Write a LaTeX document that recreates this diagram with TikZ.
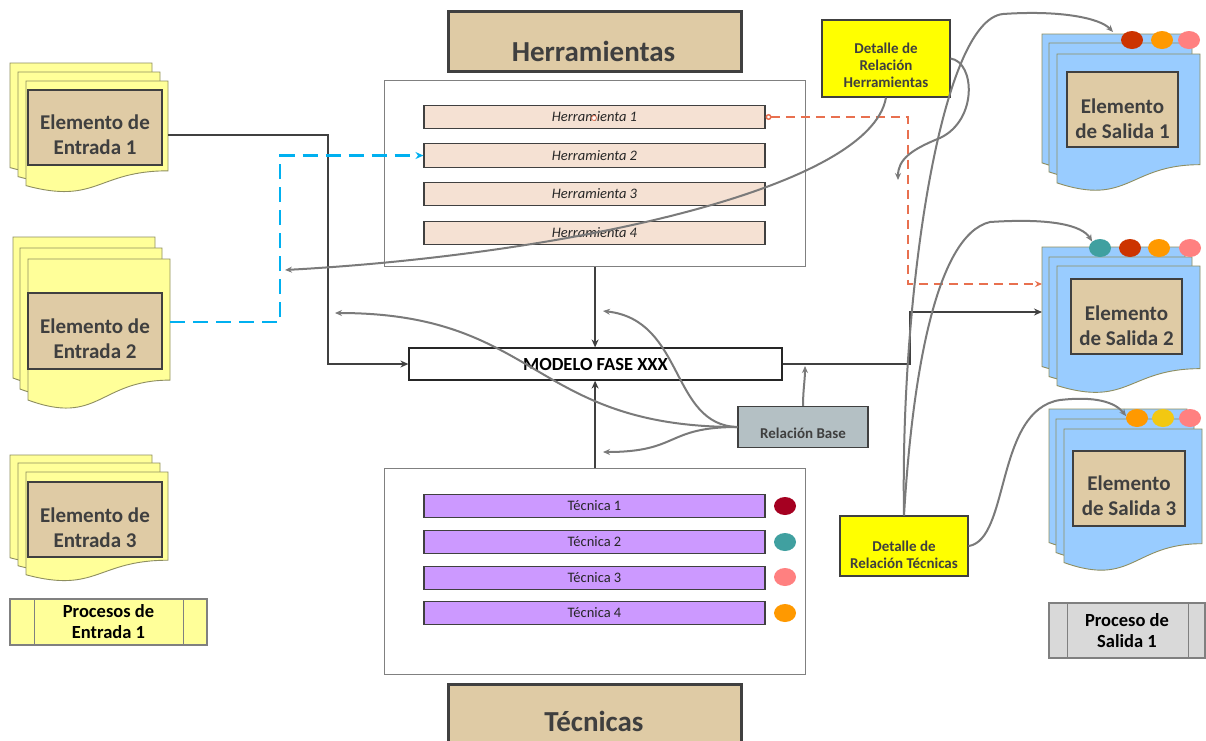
\documentclass[tikz,border=0pt]{standalone}
\usepackage{fontspec}
\setmainfont{Carlito}
\usetikzlibrary{arrows.meta,shapes.geometric}

\definecolor{tanfill}{HTML}{DFCBA5}
\definecolor{peach}{HTML}{F5E1D3}
\definecolor{lavender}{HTML}{CC99FF}
\definecolor{pageblue}{HTML}{99CCFF}
\definecolor{pageyellow}{HTML}{FFFF99}
\definecolor{pageedge}{HTML}{8E8E60}
\definecolor{darkline}{HTML}{404040}
\definecolor{grayline}{HTML}{7A7A7A}
\definecolor{cyanline}{HTML}{00B0F0}
\definecolor{redline}{HTML}{E8704F}
\definecolor{basefill}{HTML}{B4C0C4}
\definecolor{txtgray}{HTML}{3F3F3F}
\definecolor{panelgray}{HTML}{808080}
\definecolor{procgray}{HTML}{D9D9D9}
\definecolor{dotred}{HTML}{A50021}
\definecolor{dotteal}{HTML}{40A0A0}
\definecolor{dotpink}{HTML}{FF8080}
\definecolor{dotorange}{HTML}{FF9900}
\definecolor{dotrust}{HTML}{CC3300}
\definecolor{dotyellow}{HTML}{F2C811}
\definecolor{noteyellow}{HTML}{FFFF00}

% one page of a stacked-document symbol: x, y (top left), width, height, fill
\newcommand{\docpage}[5]{%
  \draw[draw=pageedge, line width=0.9pt, fill=#5]
    (#1,#2) -- ({#1+#3},#2) -- ({#1+#3},{#2+0.802*#4})
    .. controls ({#1+0.5*#3},{#2+0.802*#4}) and ({#1+0.5*#3},{#2+1.107*#4})
    .. (#1,{#2+0.934*#4}) -- cycle;}

\begin{document}
\begin{tikzpicture}[x=1pt,y=-1pt,
  heading/.style={draw=darkline, line width=2.5pt, fill=tanfill,
    minimum width=293pt, minimum height=60pt, inner sep=0pt, anchor=north west},
  headtext/.style={text=txtgray, font=\fontsize{29}{34}\selectfont\bfseries},
  panel/.style={draw=panelgray, line width=1.2pt, fill=white, inner sep=0pt, anchor=north west},
  toolbar/.style={draw=darkline, line width=1.1pt, fill=peach, minimum width=341pt,
    minimum height=23.5pt, inner sep=0pt, text=black!85,
    font=\fontsize{14.5}{16}\selectfont\itshape},
  techbar/.style={draw=darkline, line width=1.1pt, fill=lavender, minimum width=341pt,
    minimum height=23.5pt, inner sep=0pt, text=black!85,
    font=\fontsize{14.5}{16}\selectfont},
  dot/.style={ellipse, minimum width=22pt, minimum height=18pt, inner sep=0pt, draw=none},
  elembox/.style={draw=darkline, line width=2.8pt, fill=tanfill, inner sep=0pt},
  elemtext/.style={text=txtgray, align=center, font=\fontsize{21}{25}\selectfont\bfseries},
  notebox/.style={draw=darkline, line width=1.1pt, fill=noteyellow, inner sep=0pt},
  notetext/.style={text=txtgray, align=center, font=\fontsize{15}{17}\selectfont\bfseries},
  procbox/.style={draw=panelgray, line width=1.1pt, inner sep=0pt, align=center,
    text=black, font=\fontsize{18.5}{21}\selectfont\bfseries},
  conn/.style={draw=darkline, line width=2.3pt, -{Stealth[length=8pt,width=7pt]}},
  gconn/.style={draw=grayline, line width=2pt, -{Stealth[length=7pt,width=6pt]}},
]
\useasboundingbox (0,0) rectangle (1206,740);
\fill[white] (0,0) rectangle (1206,740);

% ---------- headings ----------
\node[heading] (hhead) at (447,10) {};
\node[headtext] (hheadt) at (593.5,51.5) {Herramientas};
\node[heading, minimum height=70pt] (thead) at (447,683) {};
\node[headtext] (theadt) at (594,721) {Técnicas};

% ---------- tools panel ----------
\node[panel, minimum width=421pt, minimum height=186pt] (hpanel) at (384,80) {};
\node[toolbar] (h1) at (594.5,117) {Herramienta 1};
\node[toolbar] (h2) at (594.5,155.5) {Herramienta 2};
\node[toolbar] (h3) at (594.5,194) {Herramienta 3};
\node[toolbar] (h4) at (594.5,233) {Herramienta 4};
\node[circle, draw=redline, line width=0.8pt, fill=white, minimum size=5pt, inner sep=0pt] (h1mark) at (594,118) {};

% ---------- techniques panel ----------
\node[panel, minimum width=421pt, minimum height=206pt] (tpanel) at (384,468) {};
\node[techbar] (t1) at (594.5,506) {Técnica 1};
\node[techbar] (t2) at (594.5,542) {Técnica 2};
\node[techbar] (t3) at (594.5,578) {Técnica 3};
\node[techbar] (t4) at (594.5,613) {Técnica 4};
\node[dot, fill=dotred]    (t1d) at (785,506) {};
\node[dot, fill=dotteal]   (t2d) at (785,542) {};
\node[dot, fill=dotpink]   (t3d) at (785,577) {};
\node[dot, fill=dotorange] (t4d) at (785,613) {};

% ---------- phase model and base relation ----------
\node[draw=black!85, line width=1.2pt, fill=white, minimum width=373pt, minimum height=32pt,
  inner sep=0pt, font=\fontsize{18.5}{20}\selectfont\bfseries] (model) at (595.5,364) {MODELO FASE XXX};
\node[draw=darkline, line width=1.1pt, fill=basefill, minimum width=130pt, minimum height=41pt,
  inner sep=0pt] (rb) at (803,427) {};
\node[text=txtgray, font=\fontsize{15}{17}\selectfont\bfseries] (rbt) at (803,433.5) {Relación Base};

% ---------- input documents ----------
\docpage{10}{63}{142}{112}{pageyellow}
\docpage{18}{72}{142}{112}{pageyellow}
\docpage{26}{81}{142}{112}{pageyellow}
\node[elembox, minimum width=134pt, minimum height=75pt] (e1) at (95,127.5) {};
\node[elemtext] (e1t) at (95,135) {Elemento de\\Entrada 1};

\docpage{13}{237}{142}{151}{pageyellow}
\docpage{20}{248}{142}{151}{pageyellow}
\docpage{28}{259}{142}{151}{pageyellow}
\node[elembox, minimum width=134pt, minimum height=76pt] (e2) at (95,331) {};
\node[elemtext] (e2t) at (95,338.5) {Elemento de\\Entrada 2};

\docpage{10}{455}{142}{110}{pageyellow}
\docpage{18}{463}{142}{110}{pageyellow}
\docpage{26}{472}{142}{110}{pageyellow}
\node[elembox, minimum width=134pt, minimum height=75pt] (e3) at (95,519.5) {};
\node[elemtext] (e3t) at (95,527.5) {Elemento de\\Entrada 3};

\node[procbox, fill=pageyellow, minimum width=197pt, minimum height=46pt] (pin) at (108.5,622) {Procesos de\\Entrada 1};
\draw[panelgray, line width=1.1pt] ([xshift=25pt]pin.north west) -- ([xshift=25pt]pin.south west)
  ([xshift=-24pt]pin.north east) -- ([xshift=-24pt]pin.south east);

% ---------- output documents ----------
\docpage{1042}{34}{143}{138}{pageblue}
\docpage{1049}{43}{143}{138}{pageblue}
\docpage{1057}{54}{143}{138}{pageblue}
\node[elembox, minimum width=111pt, minimum height=75pt] (s1) at (1122.5,109.5) {};
\node[elemtext] (s1t) at (1122.5,118.5) {Elemento\\de Salida 1};
\node[dot, fill=dotrust]   (s1d1) at (1132,40) {};
\node[dot, fill=dotorange] (s1d2) at (1162,40) {};
\node[dot, fill=dotpink]   (s1d3) at (1189,40) {};

\docpage{1042}{247}{143}{128}{pageblue}
\docpage{1049}{257}{143}{128}{pageblue}
\docpage{1057}{266}{143}{128}{pageblue}
\node[elembox, minimum width=111pt, minimum height=75pt] (s2) at (1126.5,316.5) {};
\node[elemtext] (s2t) at (1126.5,325.5) {Elemento\\de Salida 2};
\node[dot, fill=dotteal]   (s2d1) at (1100,248) {};
\node[dot, fill=dotrust]   (s2d2) at (1130,248) {};
\node[dot, fill=dotorange] (s2d3) at (1159,248) {};
\node[dot, fill=dotpink]   (s2d4) at (1190,248) {};

\docpage{1049}{409}{138}{143}{pageblue}
\docpage{1056}{419}{138}{143}{pageblue}
\docpage{1064}{429}{138}{143}{pageblue}
\node[elembox, minimum width=112pt, minimum height=75pt] (s3) at (1129,488.5) {};
\node[elemtext] (s3t) at (1129,496) {Elemento\\de Salida 3};
\node[dot, fill=dotorange] (s3d1) at (1137,418) {};
\node[dot, fill=dotyellow] (s3d2) at (1163,418) {};
\node[dot, fill=dotpink]   (s3d3) at (1190,418) {};

\node[procbox, fill=procgray, minimum width=156pt, minimum height=55pt] (pout) at (1127,630.5) {Proceso de\\Salida 1};
\draw[panelgray, line width=1.1pt] ([xshift=19pt]pout.north west) -- ([xshift=19pt]pout.south west)
  ([xshift=-17pt]pout.north east) -- ([xshift=-17pt]pout.south east);

% ---------- relation notes ----------
\node[notebox, minimum width=128pt, minimum height=77pt] (dh) at (886,58.5) {};
\node[notetext] (dht) at (886,65) {Detalle de\\Relación\\Herramientas};
\node[notebox, minimum width=128pt, minimum height=60pt] (dt) at (904,546) {};
\node[notetext] (dtt) at (904,554.5) {Detalle de\\Relación Técnicas};

% ---------- connector end points on the document stacks ----------
\coordinate (e1out) at (168,135);
\coordinate (e2out) at (170,322);
\coordinate (s2in)  at (1042,312);
\coordinate (s2red) at (1042,284);
\coordinate (s1tip) at (1113,32);
\coordinate (rbup)  at (805,366);
\coordinate (rbl1)  at (335,313);
\coordinate (rbl2)  at (603,311);
\coordinate (rbl3)  at (603,452);
\coordinate (dhtip) at (285,270);
\coordinate (dhloop) at (898,180);

% ---------- main flow ----------
\draw[conn] (hpanel.south) -- (hpanel.south |- model.north);
\draw[conn] (tpanel.north) -- (tpanel.north |- model.south);
\draw[conn] (e1out) -- (328,135) |- (model.west);
\draw[conn] (model.east) -- (910,364) |- (s2in);
\draw[draw=cyanline, line width=2.5pt, dash pattern=on 15pt off 8pt,
  -{Stealth[length=8pt,width=7pt]}] (e2out) -- (280,322) |- (h2.west);
\draw[draw=redline, line width=1.5pt, dash pattern=on 9pt off 6pt,
  {Circle[open,length=6pt,width=6pt]}-{Stealth[length=7pt,width=6pt]}] (h1.east) -- (908,117) |- (s2red);

% ---------- base relation links ----------
\draw[gconn] (rb.west) .. controls (530,427) and (540,313) .. (rbl1);
\draw[gconn] (rb.west) .. controls (670,425) and (685,320) .. (rbl2);
\draw[gconn] (rb.west) .. controls (665,427) and (680,452) .. (rbl3);
\draw[gconn] (rb.north) .. controls (803,390) and (805,380) .. (rbup);

% ---------- tool detail links ----------
\draw[gconn] (dh.south) .. controls (870,190) and (560,255) .. (dhtip);
\draw[gconn] (dh.east) .. controls (975,62) and (978,120) .. (940,138)
  .. controls (910,150) and (898,160) .. (dhloop);

% ---------- technique detail links ----------
\draw[gconn] (dt.north) .. controls (900,300) and (940,20) .. (1003,14)
  .. controls (1060,10) and (1100,18) .. (s1tip);
\draw[gconn] (dt.north) .. controls (912,380) and (935,235) .. (990,222)
  .. controls (1050,218) and (1082,225) .. (s2d1.north west);
\draw[gconn] (dt.east) .. controls (1010,540) and (995,410) .. (1060,400)
  .. controls (1095,396) and (1115,402) .. (s3d1.170);
\end{tikzpicture}
\end{document}
